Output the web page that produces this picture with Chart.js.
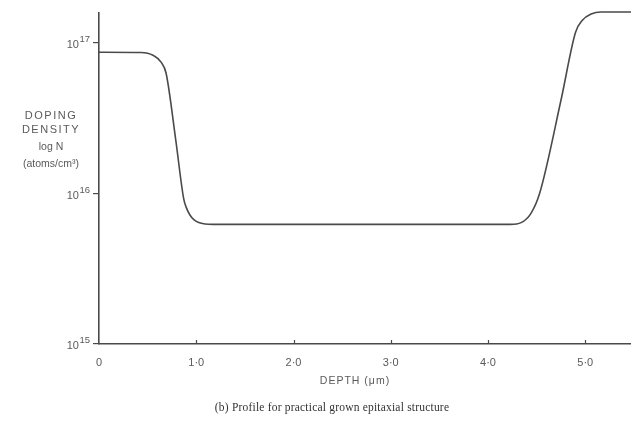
<!DOCTYPE html>
<html>
<head>
<meta charset="utf-8">
<script src="https://cdn.jsdelivr.net/npm/chart.js@4.4.1/dist/chart.umd.min.js"></script>
<style>
  html, body { margin: 0; padding: 0; background: #ffffff; }
  #wrap { width: 631px; height: 427px; position: relative; }
  canvas { display: block; }
</style>
</head>
<body>
<div id="wrap"><canvas id="c" width="631" height="427"></canvas></div>
<script>
// ---- data ----
const depthUm = [0, 0.43, 0.555, 0.64, 0.69, 0.79, 0.87, 0.9, 0.935, 0.975, 1.025, 1.09, 1.172, 2.0, 3.0, 4.0, 4.23, 4.34, 4.44, 4.53, 4.75, 4.90, 4.97, 5.06, 5.16, 5.48];
const dopingN = [8.7e16, 8.65e16, 8.3e16, 7.45e16, 6.3e16, 2.25e16, 9.3e15, 8.0e15, 7.2e15, 6.7e15, 6.42e15, 6.28e15, 6.24e15, 6.24e15, 6.24e15, 6.24e15, 6.24e15, 6.41e15, 7.36e15, 1.0e16, 4.17e16, 1.18e17, 1.42e17, 1.56e17, 1.61e17, 1.61e17];
const xTickValues = [0, 1, 2, 3, 4, 5];
const xTickLabels = ['0', '1·0', '2·0', '3·0', '4·0', '5·0'];
const yTickValues = [1e15, 1e16, 1e17];
const yTickBase = ['10', '10', '10'];
const yTickExp = ['15', '16', '17'];
const yTitleLines = ['DOPING', 'DENSITY', 'log N', '(atoms/cm³)'];
const xTitle = 'DEPTH (μm)';
const caption = '(b) Profile for practical grown epitaxial structure';

const ink = '#4a4a4a';
const textInk = '#5a5a5a';

const points = depthUm.map((d, i) => ({ x: d, y: dopingN[i] }));

const annot = {
  id: 'annot',
  afterDraw(chart) {
    const { ctx, scales: { x, y } } = chart;
    ctx.save();
    // inward x ticks
    ctx.strokeStyle = ink;
    ctx.lineWidth = 1.2;
    xTickValues.forEach(v => {
      if (v === 0) return;
      const px = Math.round(x.getPixelForValue(v)) + 0.5;
      ctx.beginPath();
      ctx.moveTo(px, y.bottom);
      ctx.lineTo(px, y.bottom - 4);
      ctx.stroke();
    });
    // y tick labels with superscript exponents, placed by the y scale
    ctx.fillStyle = textInk;
    ctx.textBaseline = 'alphabetic';
    yTickValues.forEach((v, i) => {
      const py = y.getPixelForValue(v);
      ctx.textAlign = 'right';
      ctx.font = '9.5px "Liberation Sans", sans-serif';
      const expW = ctx.measureText(yTickExp[i]).width;
      ctx.fillText(yTickExp[i], 90, py - 1);
      ctx.font = '11px "Liberation Sans", sans-serif';
      ctx.fillText(yTickBase[i], 90 - expW - 0.5, py + 5);
    });
    // y title (horizontal, stacked)
    ctx.textAlign = 'center';
    ctx.textBaseline = 'middle';
    const ys = [116, 130, 147, 164];
    yTitleLines.forEach((t, i) => {
      ctx.font = (i < 2 ? '11px' : '10.5px') + ' "Liberation Sans Narrow", "Liberation Sans", sans-serif';
      if ('letterSpacing' in ctx) ctx.letterSpacing = i < 2 ? '1.5px' : '0px';
      ctx.fillText(t, 51, ys[i]);
    });
    if ('letterSpacing' in ctx) ctx.letterSpacing = '1px';
    ctx.font = '10.5px "Liberation Sans", sans-serif';
    ctx.fillText(xTitle, 355, 381);
    if ('letterSpacing' in ctx) ctx.letterSpacing = '0.2px';
    ctx.fillStyle = '#333';
    ctx.font = '11.5px "Liberation Serif", serif';
    ctx.fillText(caption, 332, 408);
    ctx.restore();
  }
};

new Chart(document.getElementById('c'), {
  type: 'line',
  data: {
    datasets: [{
      data: points,
      borderColor: ink,
      borderWidth: 1.6,
      pointRadius: 0,
      fill: false,
      cubicInterpolationMode: 'monotone',
      clip: false
    }]
  },
  options: {
    responsive: false,
    animation: false,
    devicePixelRatio: 1,
    layout: { padding: { top: 13, left: 0, right: 0, bottom: 0 } },
    plugins: { legend: { display: false }, tooltip: { enabled: false }, title: { display: false } },
    scales: {
      x: {
        type: 'linear',
        min: 0,
        max: 5.47,
        afterBuildTicks: s => { s.ticks = xTickValues.map(v => ({ value: v })); },
        afterFit: s => { s.height = 83; },
        grid: { drawOnChartArea: false, drawTicks: false },
        border: { display: true, color: ink, width: 1.6 },
        ticks: {
          padding: 12,
          color: textInk,
          font: { family: '"Liberation Sans", sans-serif', size: 11 },
          callback: v => xTickLabels[xTickValues.indexOf(v)],
          maxRotation: 0,
          autoSkip: false
        }
      },
      y: {
        type: 'logarithmic',
        min: 1e15,
        max: 1.585e17,
        afterBuildTicks: s => { s.ticks = yTickValues.map(v => ({ value: v })); },
        afterFit: s => { s.width = 99; },
        grid: { drawOnChartArea: false, drawTicks: true, tickLength: 6, color: ink, lineWidth: 1.2 },
        border: { display: true, color: ink, width: 1.6 },
        ticks: {
          display: false
        }
      }
    }
  },
  plugins: [annot]
});
</script>
</body>
</html>
